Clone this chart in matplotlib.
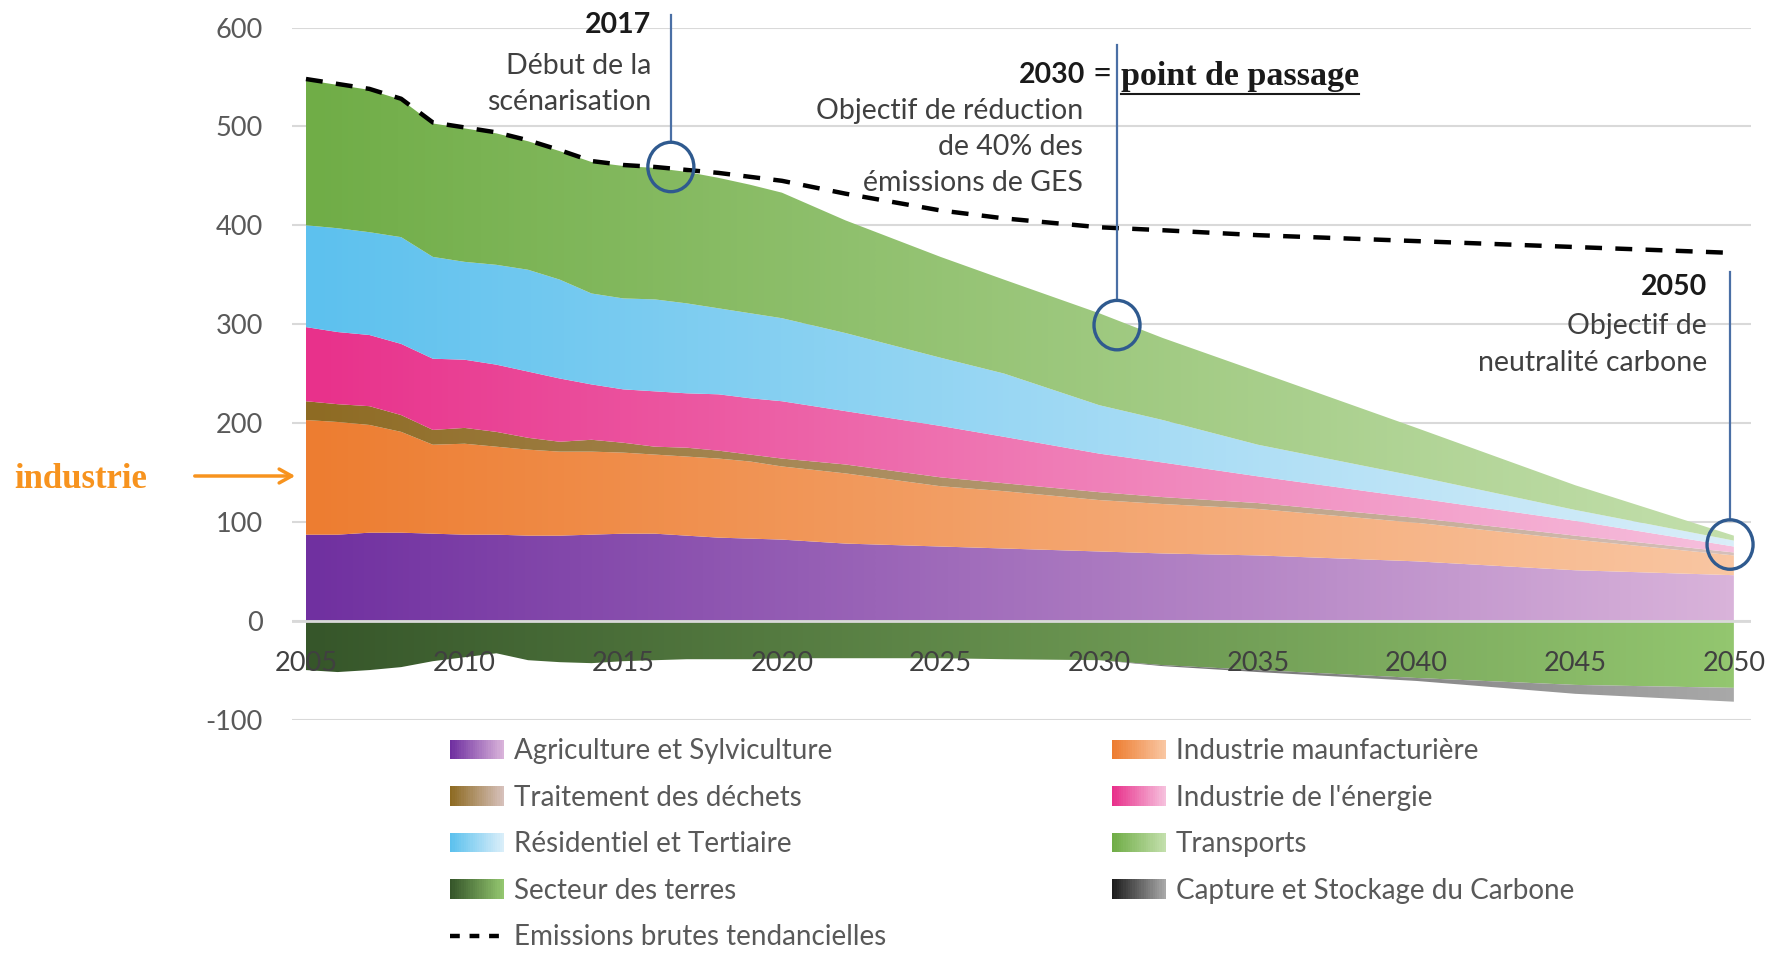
import numpy as np
import matplotlib.pyplot as plt
from matplotlib.colors import LinearSegmentedColormap
from matplotlib.patches import Rectangle, Ellipse, Patch, FancyArrowPatch
from matplotlib.legend_handler import HandlerBase
from matplotlib.lines import Line2D

plt.rcParams['font.family'] = ['Lato', 'DejaVu Sans']
plt.rcParams['axes.unicode_minus'] = False

W, H = 1773, 960

# Emissions de GES par secteur (MtCO2e)
years = [2005, 2006, 2007, 2008, 2009, 2010, 2011, 2012, 2013, 2014, 2015, 2016,
         2017, 2018, 2019, 2020, 2022, 2025, 2027, 2030, 2032, 2035, 2040, 2045, 2050]
agriculture = [87, 87, 89, 89, 88, 87, 87, 86, 86, 87, 88, 88, 86, 84, 83, 82, 78, 75, 73, 70, 68, 66, 60, 51, 46]
industrie = [116, 114, 109, 102, 90, 92, 89, 87, 85, 84, 82, 80, 80, 80, 78, 74, 71, 61, 58, 52, 50, 47, 39, 31, 20]
dechets = [19, 18, 19, 17, 15, 16, 15, 12, 10, 12, 10, 8, 9, 8, 7, 8, 9, 9, 8, 8, 7, 6, 5, 4, 3]
energie = [75, 73, 72, 72, 72, 69, 68, 67, 64, 56, 54, 56, 55, 57, 57, 58, 54, 52, 47, 39, 35, 27, 20, 15, 6]
residentiel = [103, 105, 104, 108, 103, 99, 101, 103, 100, 92, 92, 93, 91, 87, 86, 84, 79, 69, 64, 49, 43, 32, 22, 11, 6]
transports = [147, 145, 144, 139, 135, 135, 133, 130, 130, 133, 134, 133, 133, 132, 130, 127, 114, 102, 95, 93, 83, 74, 49, 25, 5]
terres = [-50, -52, -50, -47, -41, -37, -33, -40, -42, -43, -41, -40, -39, -39, -39, -38, -38, -38, -39, -40, -45, -50, -58, -65, -68]
ccs = [0, 0, 0, 0, 0, 0, 0, 0, 0, 0, 0, 0, 0, 0, 0, 0, 0, 0, 0, 0, -1, -2, -3, -9, -14]
tendanciel = [548, 543, 538, 528, 504, 499, 494, 486, 476, 465, 461, 459, 456, 453, 449, 445, 432, 415, 407, 398, 395, 390, 384, 378, 372]

labels_pos = ['Agriculture et Sylviculture', 'Industrie maunfacturière', 'Traitement des déchets',
              "Industrie de l'énergie", 'Résidentiel et Tertiaire', 'Transports']
labels_neg = ['Secteur des terres', 'Capture et Stockage du Carbone']
label_tend = 'Emissions brutes tendancielles'

# couleurs debut -> fin du degrade
grad_pos = [('#7030A0', '#D9B3DA'), ('#ED7D31', '#F9C6A2'), ('#8E6B23', '#D6C0BA'),
            ('#E8318B', '#F6C0DD'), ('#5DC1EE', '#D9EEF9'), ('#70AD47', '#C3DFAC')]
grad_neg = [('#36562A', '#93C66F'), ('#1E1E1E', '#A8A8A8')]

fig = plt.figure(figsize=(W / 100, H / 100), dpi=100)
ax = fig.add_axes([292 / W, 1 - 719.5 / H, (1751 - 292) / W, (719.5 - 27.6) / H])


def gradient_fill(coll, c0, c1):
    cmap = LinearSegmentedColormap.from_list('g', [c0, c1])
    grad = np.linspace(0, 1, 256).reshape(1, -1)
    im = ax.imshow(grad, cmap=cmap, aspect='auto', interpolation='bilinear',
                   extent=[years[0], years[-1], -100, 600], origin='lower', zorder=1)
    im.set_clip_path(coll.get_paths()[0], transform=ax.transData)
    coll.set_visible(False)


polys = ax.stackplot(years, agriculture, industrie, dechets, energie, residentiel, transports)
for p, (c0, c1) in zip(polys, grad_pos):
    gradient_fill(p, c0, c1)
polys = ax.stackplot(years, terres, ccs)
for p, (c0, c1) in zip(polys, grad_neg):
    gradient_fill(p, c0, c1)

ax.plot(years, tendanciel, color='black', lw=3.2, dashes=(3.8, 3), zorder=4)

ax.set_xlim(2004.56, 2050.54)
ax.set_ylim(-100, 600)
ax.set_yticks(range(-100, 601, 100))
ax.set_xticks(range(2005, 2051, 5))
for yv in range(-100, 601, 100):
    ax.axhline(yv, color='#D9D9D9', lw=1.5, zorder=0.5)
ax.axhline(0, color='#D9D9D9', lw=2, zorder=3)
for s in ax.spines.values():
    s.set_visible(False)
ax.spines['bottom'].set_position(('data', 0))
ax.tick_params(axis='y', length=0, pad=21, labelsize=19.5, labelcolor='#595959')
ax.tick_params(axis='x', length=0, pad=22, labelsize=19.5, labelcolor='#404040')

# reperes 2017 / 2030 / 2050
blue = '#2F5A8F'
marks = [(2016.5, 613, 459), (2030.56, 582, 299), (2049.88, 353, 77)]
for x, ytop, yc in marks:
    ax.plot([x, x], [ytop, yc + 25], color='#4A6FA5', lw=1.6, clip_on=False, zorder=5)
    ax.add_patch(Ellipse((x, yc), 1.45, 50, fill=False, ec=blue, lw=2.4, zorder=5, clip_on=False))


def px(x, y):
    return x / W, 1 - y / H


txt = dict(color='#404040', fontsize=20.5, ha='right', va='center')
bold = dict(color='#1A1A1A', fontsize=20.5, ha='right', va='center', fontweight='bold')
fig.text(*px(651, 25), '2017', **bold)
fig.text(*px(651, 66), 'Début de la', **txt)
fig.text(*px(651, 102), 'scénarisation', **txt)
fig.text(*px(1085, 75), '2030', **bold)
fig.text(*px(1102, 75), '=', fontsize=22, fontweight='bold', family='Liberation Serif',
         ha='center', va='center', color='#1A1A1A')
pp = fig.text(*px(1121, 76), 'point de passage', fontsize=24.5, fontweight='bold',
              family='Liberation Serif', ha='left', va='center', color='#1A1A1A')
fig.text(*px(1083, 111), 'Objectif de réduction', **txt)
fig.text(*px(1083, 147), 'de 40% des', **txt)
fig.text(*px(1083, 183), 'émissions de GES', **txt)
fig.text(*px(1707, 287), '2050', **bold)
fig.text(*px(1707, 326), 'Objectif de', **txt)
fig.text(*px(1707, 363), 'neutralité carbone', **txt)

fig.canvas.draw()
bb = pp.get_window_extent()
fig.add_artist(Line2D([bb.x0 / W, bb.x1 / W], [1 - 94 / H, 1 - 94 / H], color='#1A1A1A', lw=1.5))

fig.text(*px(14, 479), 'industrie', fontsize=25, fontweight='bold', family='Liberation Serif',
         color='#F7931E', ha='left', va='center')
fig.add_artist(FancyArrowPatch(px(192, 476), px(298, 476),
                               arrowstyle='->,head_length=9,head_width=5', color='#F7931E', lw=2.5,
                               transform=fig.transFigure))


class GradientHandler(HandlerBase):
    def __init__(self, c0, c1):
        super().__init__()
        self.cmap = LinearSegmentedColormap.from_list('h', [c0, c1])

    def create_artists(self, legend, orig_handle, xdescent, ydescent, width, height, fontsize, trans):
        n = 24
        step = width / n
        out = []
        for i in range(n):
            out.append(Rectangle((-xdescent + i * step, -ydescent), step * 1.1, height,
                                 facecolor=self.cmap(i / (n - 1)), edgecolor='none', transform=trans))
        return out


all_labels = labels_pos + labels_neg
all_grads = grad_pos + grad_neg
handles = [Patch(label=l) for l in all_labels]
hmap = {h: GradientHandler(c0, c1) for h, (c0, c1) in zip(handles, all_grads)}
dash = Line2D([], [], color='black', lw=3.2, dashes=(2.2, 2.2))

col1 = [handles[0], handles[2], handles[4], handles[6], dash]
col2 = [handles[1], handles[3], handles[5], handles[7]]
lab1 = [all_labels[0], all_labels[2], all_labels[4], all_labels[6], label_tend]
lab2 = [all_labels[1], all_labels[3], all_labels[5], all_labels[7]]
common = dict(loc='upper left', frameon=False, fontsize=20, handlelength=1.95, handleheight=0.7,
              handletextpad=0.35, labelspacing=0.74, borderpad=0, borderaxespad=0,
              labelcolor='#595959', handler_map=hmap)
fig.legend(col1, lab1, bbox_to_anchor=px(450, 738), **common)
fig.legend(col2, lab2, bbox_to_anchor=px(1112, 738), **common)

fig.savefig('out.png', dpi=100)
